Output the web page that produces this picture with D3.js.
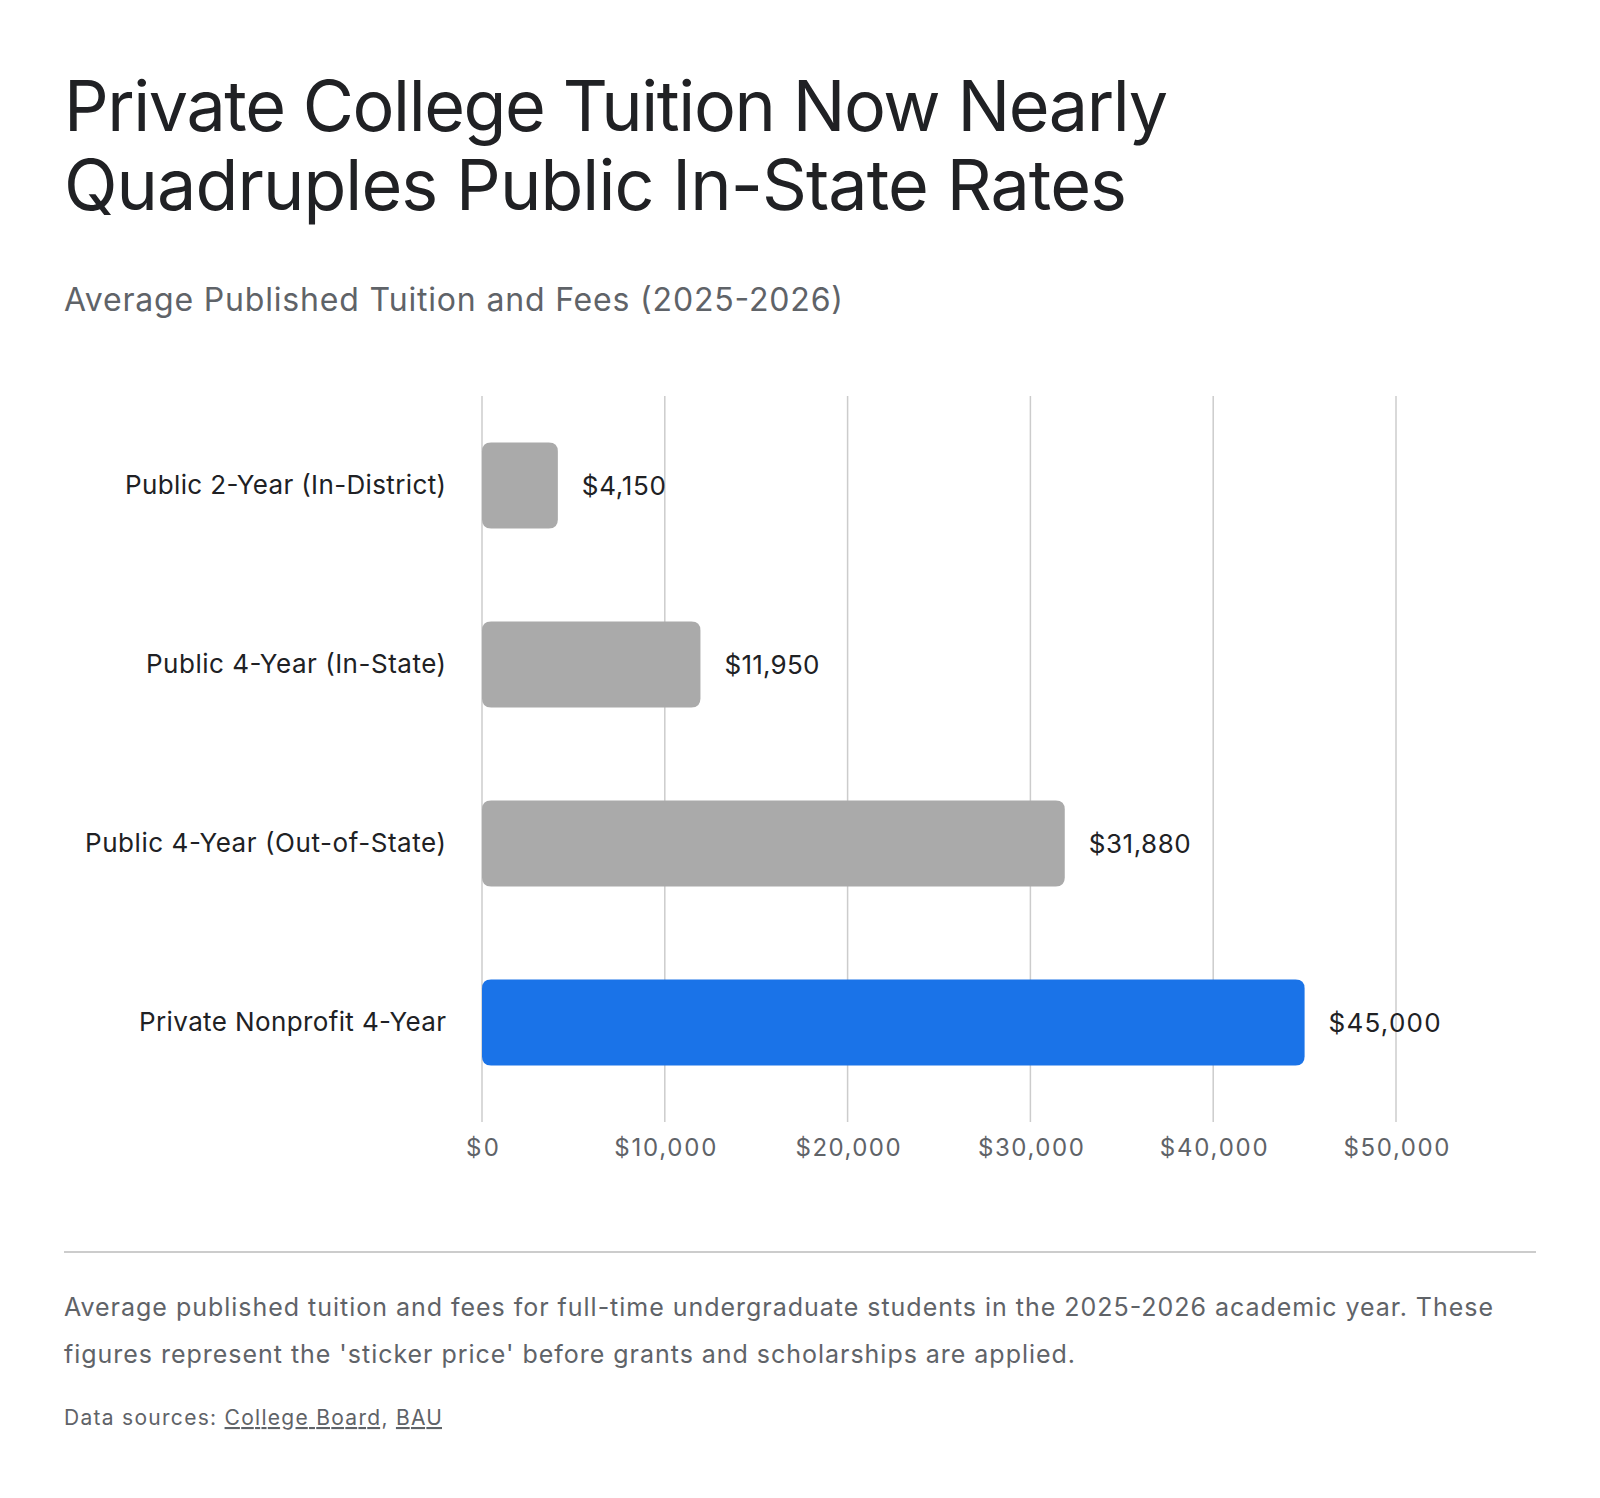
<!DOCTYPE html>
<html><head><meta charset="utf-8">
<script src="https://cdn.jsdelivr.net/npm/d3@7"></script>
<style>
html,body{margin:0;padding:0;background:#fff;}
svg{display:block;}
</style></head>
<body>
<svg id="chart" width="1600" height="1498"></svg>
<script>
const categories = ["Public 2-Year (In-District)", "Public 4-Year (In-State)", "Public 4-Year (Out-of-State)", "Private Nonprofit 4-Year"];
const values = [4150, 11950, 31880, 45000];
const highlight = [false, false, false, true];
const tickValues = [0, 10000, 20000, 30000, 40000, 50000];
const title = ["Private College Tuition Now Nearly", "Quadruples Public In-State Rates"];
const subtitle = "Average Published Tuition and Fees (2025-2026)";
const note = ["Average published tuition and fees for full-time undergraduate students in the 2025-2026 academic year. These", "figures represent the 'sticker price' before grants and scholarships are applied."];
const sources = ["College Board", "BAU"];

const titleW = [1104, 1063];
const catW = [321, 300, 361, 307];
const valW = [84, 95, 102, 112];
const tickW = [33, 102, 105, 106, 108, 106];
const noteW = [1429, 1011];

const svg = d3.select("#chart");
const font = "Inter, Roboto, sans-serif";

svg.selectAll("text.title").data(title).join("text")
  .attr("x", 64).attr("y", (d,i) => 131 + i*79)
  .attr("font-family", font).attr("font-size", 70).attr("fill", "#202124")
  .attr("textLength", (d,i) => titleW[i]).attr("lengthAdjust", "spacing")
  .text(d => d);

svg.append("text").attr("x", 64).attr("y", 311)
  .attr("font-family", font).attr("font-size", 32).attr("fill", "#5f6368")
  .attr("textLength", 779).attr("lengthAdjust", "spacing")
  .text(subtitle);

const x = d3.scaleLinear().domain([0, 50000]).range([482, 1396]);
const y = d3.scaleBand().domain(categories).range([396, 1112]).paddingInner(0.52).paddingOuter(0.26);

const grid = svg.append("g");
grid.selectAll("line").data(tickValues).join("line")
  .attr("x1", d => x(d)).attr("x2", d => x(d))
  .attr("y1", 396).attr("y2", 1122)
  .attr("stroke", "#cccccc").attr("stroke-width", 1.5);

const xAxis = svg.append("g").attr("transform", "translate(0,1122)")
  .call(d3.axisBottom(x).tickValues(tickValues).tickSize(0).tickPadding(13).tickFormat(d => "$" + d3.format(",")(d)));
xAxis.select(".domain").remove();
xAxis.selectAll("text").attr("font-family", font).attr("font-size", 24).attr("fill", "#5f6368").attr("dy", "0.88em")
  .attr("textLength", (d,i) => tickW[i]).attr("lengthAdjust", "spacing");

svg.selectAll("path.bar").data(values).join("path")
  .attr("class", "bar")
  .attr("fill", (d,i) => highlight[i] ? "#1a73e8" : "#aaaaaa")
  .attr("d", (d,i) => {
    const x0 = x(0), x1 = x(d), y0 = y(categories[i]), h = y.bandwidth(), r = 9;
    return `M${x0},${y0+r} Q${x0},${y0} ${x0+r},${y0} L${x1-r},${y0} Q${x1},${y0} ${x1},${y0+r} L${x1},${y0+h-r} Q${x1},${y0+h} ${x1-r},${y0+h} L${x0+r},${y0+h} Q${x0},${y0+h} ${x0},${y0+h-r} Z`;
  });

svg.selectAll("text.val").data(values).join("text")
  .attr("x", d => x(d) + 24).attr("y", (d,i) => y(categories[i]) + y.bandwidth()/2)
  .attr("dy", "0.35em").attr("font-family", font).attr("font-size", 26).attr("fill", "#202124")
  .attr("textLength", (d,i) => valW[i]).attr("lengthAdjust", "spacing")
  .text(d => "$" + d3.format(",")(d));

const yAxis = svg.append("g").attr("transform", "translate(446,0)")
  .call(d3.axisLeft(y).tickSize(0).tickPadding(0));
yAxis.select(".domain").remove();
yAxis.selectAll("text").attr("font-family", font).attr("font-size", 26).attr("fill", "#202124")
  .attr("textLength", (d,i) => catW[i]).attr("lengthAdjust", "spacing");

svg.append("line").attr("x1", 64).attr("x2", 1536).attr("y1", 1252).attr("y2", 1252)
  .attr("stroke", "#cccccc").attr("stroke-width", 2);

svg.selectAll("text.note").data(note).join("text")
  .attr("x", 64).attr("y", (d,i) => 1316 + i*47)
  .attr("font-family", font).attr("font-size", 25).attr("fill", "#5f6368")
  .attr("textLength", (d,i) => noteW[i]).attr("lengthAdjust", "spacing")
  .text(d => d);

const src = svg.append("text").attr("x", 64).attr("y", 1425)
  .attr("font-family", font).attr("font-size", 21).attr("fill", "#5f6368")
  .attr("textLength", 378).attr("lengthAdjust", "spacing");
src.append("tspan").text("Data sources: ");
sources.forEach((s, i) => {
  src.append("tspan").attr("text-decoration", "underline").attr("fill", "#5f6368").text(s);
  if (i < sources.length - 1) src.append("tspan").text(", ");
});
</script>
</body></html>
